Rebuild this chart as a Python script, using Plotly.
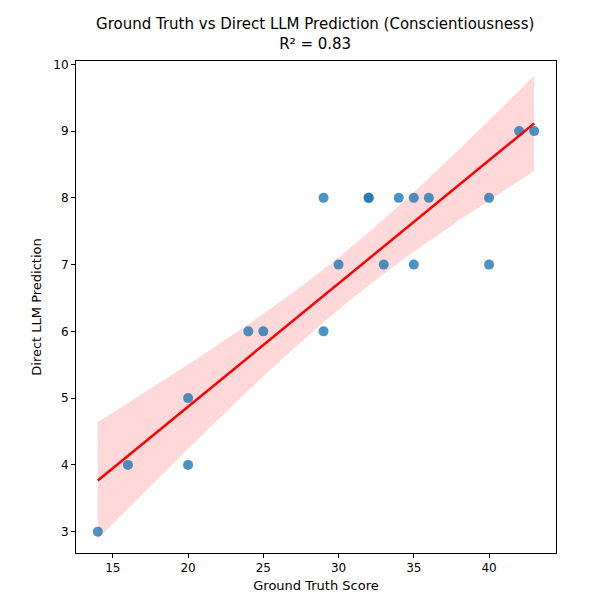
import numpy as np
import plotly.graph_objects as go

gt = [14, 16, 20, 20, 24, 25, 29, 29, 30, 32, 32, 33, 34, 35, 35, 36, 40, 40, 42, 43]
pred = [3, 4, 5, 4, 6, 6, 8, 6, 7, 8, 8, 7, 8, 8, 7, 8, 8, 7, 9, 9]

x = np.array(gt, float); y = np.array(pred, float)
b, a = np.polyfit(x, y, 1)
r2 = np.corrcoef(x, y)[0, 1] ** 2
xs = np.linspace(x.min(), x.max(), 100)
ys = a + b * xs
n = len(x)
res = y - (a + b * x)
s = np.sqrt((res ** 2).sum() / (n - 2))
se = s * np.sqrt(1 / n + (xs - x.mean()) ** 2 / ((x - x.mean()) ** 2).sum())
t = 2.4
lo, hi = ys - t * se, ys + t * se

fig = go.Figure()
fig.add_trace(go.Scatter(x=np.concatenate([xs, xs[::-1]]), y=np.concatenate([hi, lo[::-1]]),
                         fill="toself", fillcolor="rgba(255,0,0,0.15)", line=dict(width=0),
                         hoverinfo="skip", showlegend=False))
fig.add_trace(go.Scatter(x=gt, y=pred, mode="markers",
                         marker=dict(color="rgba(31,119,180,0.8)", size=10), showlegend=False))
fig.add_trace(go.Scatter(x=xs, y=ys, mode="lines", line=dict(color="red", width=2.5), showlegend=False))

ax = dict(showgrid=False, zeroline=False, showline=True, linecolor="black", mirror=True,
          ticks="outside", tickcolor="black", ticklen=4, tickfont=dict(size=12, color="black"))
fig.update_layout(
    width=600, height=600, plot_bgcolor="white", paper_bgcolor="white",
    margin=dict(l=68, r=52, t=53, b=55),
    font=dict(family="DejaVu Sans", color="black"),
    title=dict(text=f"Ground Truth vs Direct LLM Prediction (Conscientiousness)<br>R² = {r2:.2f}",
               x=0.512, xanchor="center", y=0.965, font=dict(size=15)),
    xaxis=dict(ax, range=[12.55, 44.45], tickvals=[15, 20, 25, 30, 35, 40],
               title=dict(text="Ground Truth Score", font=dict(size=13), standoff=6)),
    yaxis=dict(ax, range=[2.68, 10.05], tickvals=[3, 4, 5, 6, 7, 8, 9, 10],
               title=dict(text="Direct LLM Prediction", font=dict(size=13), standoff=8)),
)
fig.write_html("out.html")
